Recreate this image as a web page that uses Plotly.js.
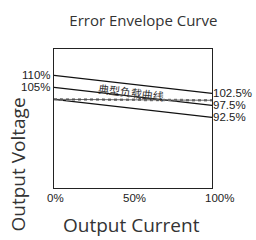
<!DOCTYPE html>
<html><head><meta charset="utf-8">
<script src="https://cdn.plot.ly/plotly-3.0.1.min.js"></script>
<style>html,body{margin:0;padding:0;background:#fff}#c{width:256px;height:240px}</style>
</head><body><div id="c"></div>
<script>
// Output current (% of rated), endpoints of each line
const currentPct = [0, 100];
const upperLimit = [110, 102.5];
const midLine = [105, 97.5];
const lowerLimit = [100, 92.5];
const typicalLoad = [100, 99.6];
const typicalLabel = '典型负载曲线';
const leftTickVals = [110, 105];
const leftTickText = ['110%', '105%'];
const rightTickVals = [102.5, 97.5, 92.5];
const rightTickText = ['102.5%', '97.5%', '92.5%'];
const xTickVals = [0, 50, 100];
const xTickText = ['0%', '50%', '100%'];
const xTitle = 'Output Current';
const yTitle = 'Output Voltage';

const lineStyle = {color: '#111', width: 1.2};
const traces = [
  {x: currentPct, y: upperLimit, mode: 'lines', line: lineStyle},
  {x: currentPct, y: midLine, mode: 'lines', line: lineStyle},
  {x: currentPct, y: lowerLimit, mode: 'lines', line: lineStyle},
  {x: currentPct, y: typicalLoad, mode: 'lines', line: {color: '#888', width: 2.5, dash: 'dot'}},
  {x: currentPct, y: typicalLoad, mode: 'lines', line: {color: '#444', width: 0.8}},
  {x: currentPct, y: upperLimit, yaxis: 'y2', mode: 'lines', line: {width: 0}, hoverinfo: 'skip'}
];

const tickFont = {family: 'Liberation Sans, Arial, sans-serif', size: 11.5, color: '#222'};
const titleFont = {family: 'Open Sans', size: 19, color: '#333'};
const annotations = xTickVals.map((v, i) => ({
  x: v, y: 0, xref: 'x', yref: 'paper', yanchor: 'top', yshift: -2,
  xanchor: i === xTickVals.length - 1 ? 'left' : 'center', xshift: i === xTickVals.length - 1 ? -9 : 1,
  text: xTickText[i], showarrow: false, font: tickFont
}));
annotations.push({x: 49, y: 103, xref: 'x', yref: 'y', text: typicalLabel, showarrow: false,
  textangle: 7, font: {family: 'Noto Sans CJK SC', size: 11, color: '#333'}});
annotations.push({x: 0.49, y: 0, xref: 'paper', yref: 'paper', yanchor: 'middle', yshift: -37,
  text: xTitle, showarrow: false, font: titleFont});
annotations.push({x: 0, y: 0.5, xref: 'paper', yref: 'paper', xanchor: 'center', xshift: -37, yshift: -46,
  text: yTitle, textangle: -90, showarrow: false, font: titleFont});

const layout = {
  width: 256, height: 240,
  margin: {l: 54, r: 44, t: 49, b: 52},
  paper_bgcolor: '#fff', plot_bgcolor: '#fff',
  showlegend: false,
  title: {text: 'Error Envelope Curve', x: 0.56, xanchor: 'center', y: 0.915, yanchor: 'middle',
    font: {family: 'Open Sans', size: 15, color: '#333'}},
  xaxis: {range: [0, 100], showgrid: false, zeroline: false, showticklabels: false, ticks: '',
    showline: true, linecolor: '#222', linewidth: 1.2, mirror: true},
  yaxis: {range: [63, 121], showgrid: false, zeroline: false, ticks: '',
    tickvals: leftTickVals, ticktext: leftTickText, tickfont: tickFont,
    showline: true, linecolor: '#222', linewidth: 1.2, mirror: true},
  yaxis2: {range: [63, 121], overlaying: 'y', side: 'right', showgrid: false, zeroline: false, ticks: '',
    tickvals: rightTickVals, ticktext: rightTickText, tickfont: tickFont, showline: false},
  annotations: annotations
};
Plotly.newPlot('c', traces, layout, {displayModeBar: false, staticPlot: true});
</script></body></html>
